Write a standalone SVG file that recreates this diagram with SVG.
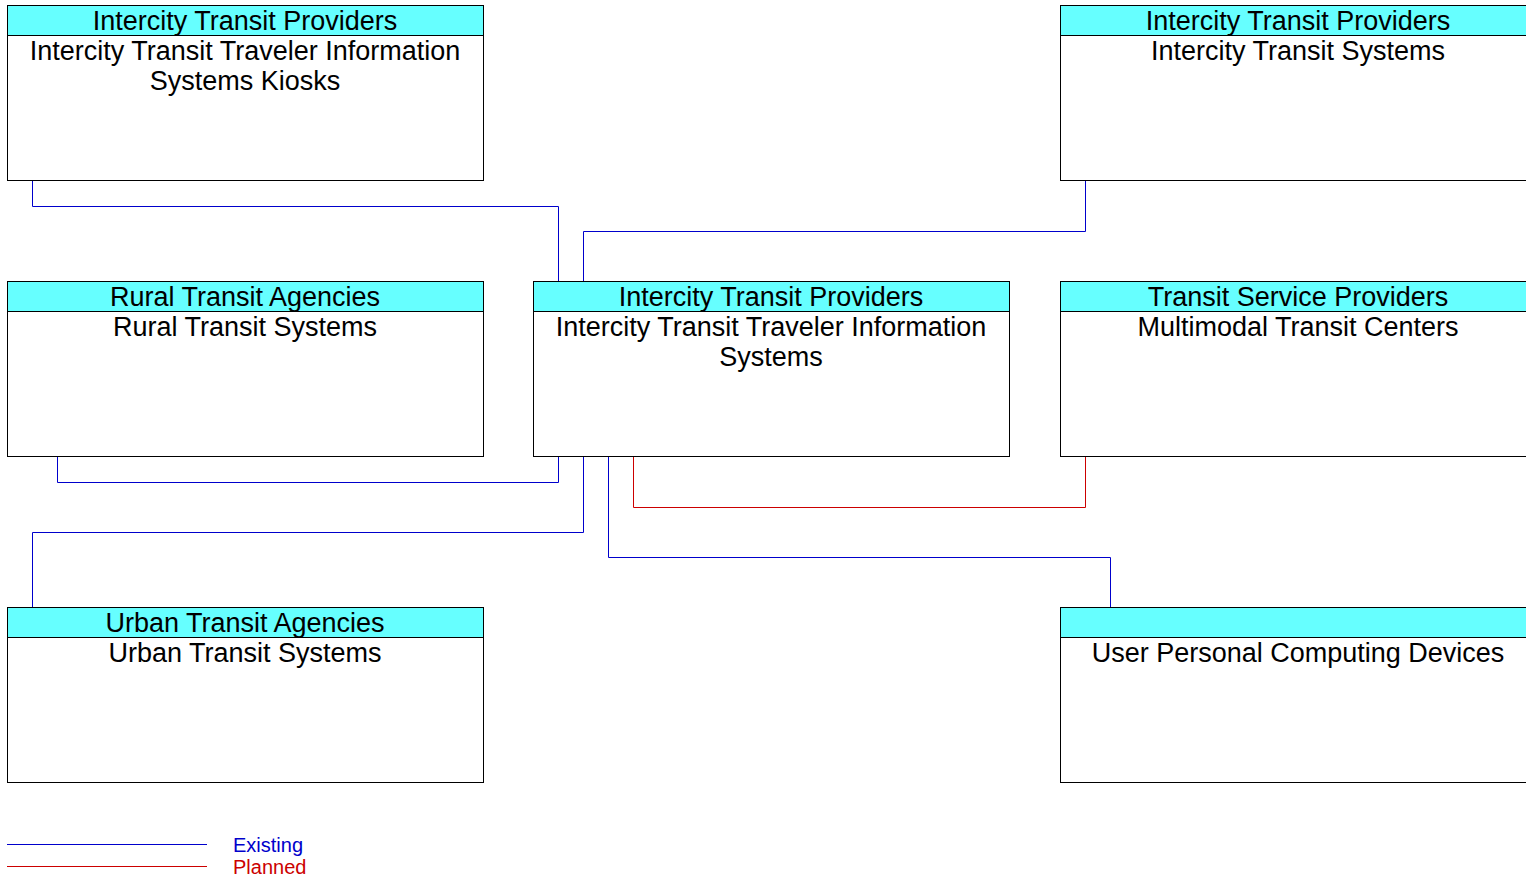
<svg xmlns="http://www.w3.org/2000/svg" width="1526" height="879" viewBox="0 0 1526 879">
<style>
.box{fill:#fff;stroke:#000;stroke-width:1}
.hdr{fill:#66ffff;stroke:#000;stroke-width:1}
.t{font-family:"Liberation Sans",Arial,sans-serif;font-size:27px;fill:#000;text-anchor:middle}
.ex{fill:none;stroke:#0000cc;stroke-width:1}
.pl{fill:none;stroke:#cc0000;stroke-width:1}
.lg{font-family:"Liberation Sans",Arial,sans-serif;font-size:20px}
</style>
<rect width="1526" height="879" fill="#fff"/>
<g id="connectors">
<polyline class="ex" points="32.5,180 32.5,206.5 558.5,206.5 558.5,281"/>
<polyline class="ex" points="1085.5,180 1085.5,231.5 583.5,231.5 583.5,281"/>
<polyline class="ex" points="57.5,457 57.5,482.5 558.5,482.5 558.5,457"/>
<polyline class="ex" points="32.5,607 32.5,532.5 583.5,532.5 583.5,457"/>
<polyline class="pl" points="633.5,457 633.5,507.5 1085.5,507.5 1085.5,457"/>
<polyline class="ex" points="608.5,457 608.5,557.5 1110.5,557.5 1110.5,607"/>
</g>
<g id="kiosks">
<rect class="box" x="7.5" y="5.5" width="476" height="175"/>
<rect class="hdr" x="7.5" y="5.5" width="476" height="30"/>
<text class="t" x="245" y="30">Intercity Transit Providers</text>
<text class="t" x="245" y="60">Intercity Transit Traveler Information</text>
<text class="t" x="245" y="90">Systems Kiosks</text>
</g>
<g id="intercity-systems">
<rect class="box" x="1060.5" y="5.5" width="476" height="175"/>
<rect class="hdr" x="1060.5" y="5.5" width="476" height="30"/>
<text class="t" x="1298" y="30">Intercity Transit Providers</text>
<text class="t" x="1298" y="60">Intercity Transit Systems</text>
</g>
<g id="rural">
<rect class="box" x="7.5" y="281.5" width="476" height="175"/>
<rect class="hdr" x="7.5" y="281.5" width="476" height="30"/>
<text class="t" x="245" y="306">Rural Transit Agencies</text>
<text class="t" x="245" y="336">Rural Transit Systems</text>
</g>
<g id="center">
<rect class="box" x="533.5" y="281.5" width="476" height="175"/>
<rect class="hdr" x="533.5" y="281.5" width="476" height="30"/>
<text class="t" x="771" y="306">Intercity Transit Providers</text>
<text class="t" x="771" y="336">Intercity Transit Traveler Information</text>
<text class="t" x="771" y="366">Systems</text>
</g>
<g id="multimodal">
<rect class="box" x="1060.5" y="281.5" width="476" height="175"/>
<rect class="hdr" x="1060.5" y="281.5" width="476" height="30"/>
<text class="t" x="1298" y="306">Transit Service Providers</text>
<text class="t" x="1298" y="336">Multimodal Transit Centers</text>
</g>
<g id="urban">
<rect class="box" x="7.5" y="607.5" width="476" height="175"/>
<rect class="hdr" x="7.5" y="607.5" width="476" height="30"/>
<text class="t" x="245" y="632">Urban Transit Agencies</text>
<text class="t" x="245" y="662">Urban Transit Systems</text>
</g>
<g id="devices">
<rect class="box" x="1060.5" y="607.5" width="476" height="175"/>
<rect class="hdr" x="1060.5" y="607.5" width="476" height="30"/>
<text class="t" x="1298" y="662">User Personal Computing Devices</text>
</g>
<g id="legend">
<line class="ex" x1="7" y1="844.5" x2="207" y2="844.5"/>
<line class="pl" x1="7" y1="866.5" x2="207" y2="866.5"/>
<text class="lg" x="233" y="852" fill="#0000cc">Existing</text>
<text class="lg" x="233" y="874" fill="#cc0000">Planned</text>
</g>
</svg>
